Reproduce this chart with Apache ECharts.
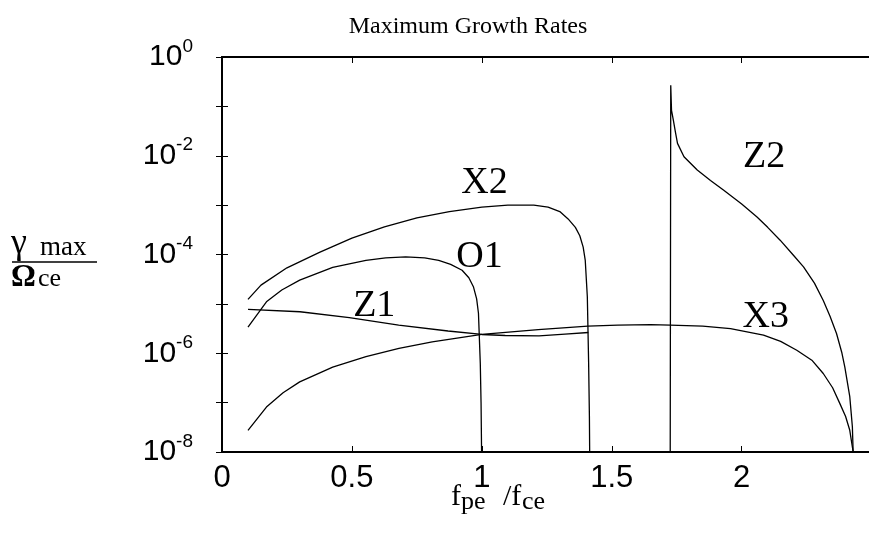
<!DOCTYPE html>
<html>
<head>
<meta charset="utf-8">
<script src="https://cdn.jsdelivr.net/npm/echarts@6/dist/echarts.min.js"></script>
<style>html,body{margin:0;padding:0;background:#fff;}#c{width:869px;height:539px;}</style>
</head>
<body>
<div id="c"></div>
<script>
// ---- data ----
const xTickLabels = ['0', '0.5', '1', '1.5', '2'];
const yTickExponents = ['0', '-2', '-4', '-6', '-8'];

const x2_f = [0.10,0.15,0.25,0.375,0.50,0.625,0.75,0.875,1.00,1.10,1.20,1.255,1.30,1.332,1.36,1.377,1.39,1.398,1.406,1.411,1.414,1.415];
const x2_g = [1.23e-5,2.40e-5,5.37e-5,1.10e-4,2.14e-4,3.63e-4,5.50e-4,7.41e-4,9.12e-4,1.00e-3,1.00e-3,9.12e-4,7.41e-4,5.25e-4,3.55e-4,2.40e-4,1.41e-4,7.59e-5,1.38e-5,6.31e-7,5.01e-8,1e-8];

const o1_f = [0.10,0.171,0.23,0.299,0.426,0.554,0.63,0.707,0.78,0.834,0.88,0.924,0.95,0.968,0.98,0.987,0.994,0.997,0.999];
const o1_g = [3.39e-6,1.10e-5,1.91e-5,3.02e-5,5.50e-5,7.59e-5,8.51e-5,8.91e-5,8.51e-5,7.59e-5,6.31e-5,4.79e-5,3.39e-5,2.19e-5,1.26e-5,6.46e-6,6.31e-7,1.0e-7,1e-8];

const z1_f = [0.10,0.30,0.49,0.68,0.87,1.00,1.09,1.22,1.32,1.41];
const z1_g = [7.76e-6,6.92e-6,5.25e-6,3.72e-6,2.82e-6,2.40e-6,2.29e-6,2.24e-6,2.45e-6,2.63e-6];

const x3_f = [0.10,0.171,0.235,0.299,0.426,0.554,0.681,0.809,1.00,1.217,1.408,1.523,1.65,1.725,1.85,1.957,2.084,2.15,2.212,2.27,2.314,2.35,2.378,2.40,2.416,2.429];
const x3_g = [2.75e-8,8.13e-8,1.58e-7,2.63e-7,5.25e-7,8.51e-7,1.26e-6,1.70e-6,2.40e-6,3.02e-6,3.55e-6,3.72e-6,3.80e-6,3.72e-6,3.55e-6,3.16e-6,2.34e-6,1.74e-6,1.15e-6,7.24e-7,3.89e-7,2.0e-7,9.55e-8,5.25e-8,2.75e-8,1e-8];

const z2_f = [1.725,1.727,1.730,1.737,1.745,1.753,1.778,1.829,1.88,1.931,2.00,2.059,2.10,2.148,2.20,2.238,2.28,2.314,2.34,2.365,2.385,2.397,2.416,2.426,2.429];
const z2_g = [1e-8,0.269,0.0832,0.0525,0.0302,0.0178,9.55e-3,5.13e-3,3.16e-3,2.0e-3,1.05e-3,5.75e-4,3.55e-4,1.95e-4,9.55e-5,5.62e-5,2.63e-5,1.17e-5,5.62e-6,2.51e-6,1.05e-6,5.25e-7,1.32e-7,3.24e-8,1e-8];

const curveNames = ['X2', 'O1', 'Z1', 'Z2', 'X3'];
const labelF = [1.01, 0.991, 0.586, 2.086, 2.093];
const labelG = [2.78e-3, 8.81e-5, 8.97e-6, 9.33e-3, 5.38e-6];

// ---- chart ----
const zip = (a, b) => a.map((v, i) => [v, b[i]]);
const serif = 'Liberation Serif';
const sans = 'Liberation Sans';

const lineSeries = (name, f, g) => ({
  type: 'line', name, data: zip(f, g), showSymbol: false, symbol: 'none',
  smooth: false,
  lineStyle: { color: '#000', width: 1.3 }, silent: true, z: 3
});

const chart = echarts.init(document.getElementById('c'), null, { renderer: 'canvas' });
chart.setOption({
  animation: false,
  backgroundColor: '#fff',
  title: {
    text: 'Maximum Growth Rates', left: 463, top: 10, textAlign: 'center',
    textStyle: { fontFamily: serif, fontWeight: 'normal', fontSize: 24, color: '#000' }
  },
  grid: { left: 222, top: 57, right: -4, bottom: 87, containLabel: false },
  xAxis: [{
    type: 'value', min: 0, max: 2.49, interval: 0.5, position: 'bottom',
    axisLine: { lineStyle: { color: '#000', width: 2 } },
    axisTick: { inside: true, length: 6, lineStyle: { color: '#000', width: 1 } },
    splitLine: { show: false },
    axisLabel: {
      margin: 11, color: '#000', fontFamily: sans, fontSize: 31, showMaxLabel: false,
      formatter: v => { const i = Math.round(v / 0.5); return Math.abs(v - i * 0.5) < 1e-9 && i < xTickLabels.length ? xTickLabels[i] : ''; }
    }
  }, {
    type: 'value', min: 0, max: 2.49, interval: 0.5, position: 'top',
    axisLine: { lineStyle: { color: '#000', width: 2 } },
    axisTick: { inside: true, length: 6, lineStyle: { color: '#000', width: 1 } },
    axisLabel: { show: false }, splitLine: { show: false }
  }],
  yAxis: [{
    type: 'log', logBase: 10, min: 1e-8, max: 1, splitNumber: 8, position: 'left',
    axisLine: { show: true, lineStyle: { color: '#000', width: 2 } },
    axisTick: { show: true, inside: true, length: 6, lineStyle: { color: '#000', width: 1 } },
    splitLine: { show: false }, minorTick: { show: false },
    axisLabel: {
      margin: 29, color: '#000',
      formatter: v => {
        const e = Math.round(Math.log10(v));
        if (e % 2 !== 0) return '';
        const idx = -e / 2;
        return '{b|10}{s|' + yTickExponents[idx] + '}';
      },
      rich: {
        b: { fontFamily: sans, fontSize: 30, color: '#000', verticalAlign: 'bottom', lineHeight: 30 },
        s: { fontFamily: sans, fontSize: 19, color: '#000', verticalAlign: 'bottom', lineHeight: 20, padding: [0, 0, 16, 0] }
      }
    }
  }, {
    type: 'log', logBase: 10, min: 1e-8, max: 1, splitNumber: 8, position: 'right',
    axisLine: { show: true, lineStyle: { color: '#000', width: 2 } },
    axisTick: { show: true, inside: true, length: 6, lineStyle: { color: '#000', width: 1 } },
    splitLine: { show: false }, axisLabel: { show: false }
  }],
  series: [
    lineSeries('X2', x2_f, x2_g),
    lineSeries('O1', o1_f, o1_g),
    lineSeries('Z1', z1_f, z1_g),
    lineSeries('X3', x3_f, x3_g),
    lineSeries('Z2', z2_f, z2_g),
    {
      type: 'scatter', symbol: 'circle', symbolSize: 1, silent: true, z: 5,
      itemStyle: { color: 'rgba(0,0,0,0)', opacity: 1 },
      data: curveNames.map((n, i) => ({ name: n, value: [labelF[i], labelG[i]] })),
      label: { show: true, position: 'inside', formatter: '{b}', fontFamily: serif, fontSize: 38, color: '#000', textBorderWidth: 0 }
    }
  ],
  graphic: [
    { type: 'text', left: 11, top: 226, style: { text: 'γ', font: '36px "Liberation Serif"', fill: '#000' } },
    { type: 'text', left: 40, top: 234, style: { text: 'max', font: '27px "Liberation Serif"', fill: '#000' } },
    { type: 'line', shape: { x1: 12, y1: 262, x2: 97, y2: 262 }, style: { stroke: '#000', lineWidth: 1.3 } },
    { type: 'text', left: 11, top: 262, style: { text: 'Ω', font: 'bold 31px "Liberation Serif"', fill: '#000' } },
    { type: 'text', left: 38, top: 266, style: { text: 'ce', font: '26px "Liberation Serif"', fill: '#000' } },
    { type: 'text', left: 451, top: 482, style: { text: 'f', font: '30px "Liberation Serif"', fill: '#000' } },
    { type: 'text', left: 461, top: 489, style: { text: 'pe', font: '26px "Liberation Serif"', fill: '#000' } },
    { type: 'text', left: 503, top: 482, style: { text: '/f', font: '30px "Liberation Serif"', fill: '#000' } },
    { type: 'text', left: 522, top: 489, style: { text: 'ce', font: '26px "Liberation Serif"', fill: '#000' } }
  ]
});
</script>
</body>
</html>
